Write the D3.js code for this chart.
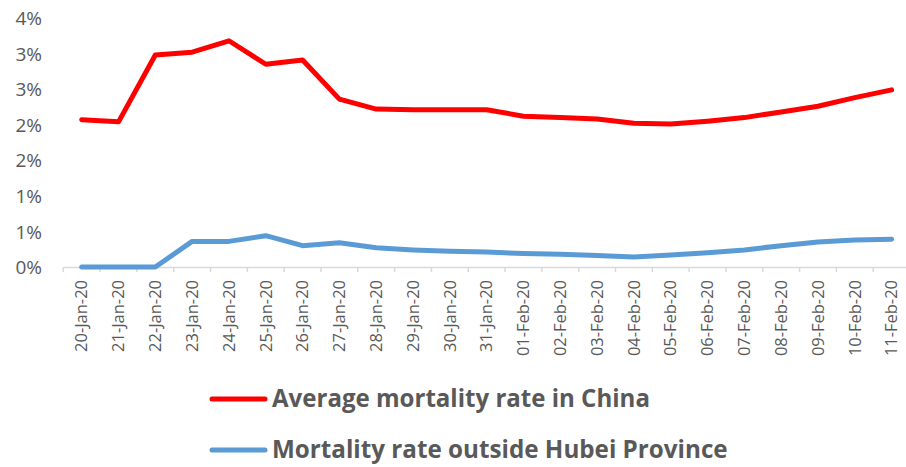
<!DOCTYPE html>
<html><head><meta charset="utf-8">
<script src="https://cdn.jsdelivr.net/npm/d3@7"></script>
<style>body{margin:0;background:#fff}svg{display:block}</style>
</head><body>
<svg id="c" width="906" height="467"></svg>
<script>
const categories = ["20-Jan-20","21-Jan-20","22-Jan-20","23-Jan-20","24-Jan-20","25-Jan-20","26-Jan-20","27-Jan-20","28-Jan-20","29-Jan-20","30-Jan-20","31-Jan-20","01-Feb-20","02-Feb-20","03-Feb-20","04-Feb-20","05-Feb-20","06-Feb-20","07-Feb-20","08-Feb-20","09-Feb-20","10-Feb-20","11-Feb-20"];
const chinaRate = [2.07,2.04,2.98,3.02,3.18,2.85,2.91,2.36,2.22,2.21,2.21,2.21,2.12,2.10,2.08,2.02,2.01,2.05,2.10,2.18,2.26,2.38,2.49];
const outsideHubeiRate = [0,0,0,0.36,0.36,0.44,0.30,0.34,0.27,0.24,0.22,0.21,0.19,0.18,0.16,0.14,0.17,0.20,0.24,0.30,0.35,0.38,0.39];
const yTicks = [0,0.5,1,1.5,2,2.5,3,3.5];
const yTickLabels = ["0%","1%","1%","2%","2%","3%","3%","4%"];
const seriesNames = ["Average mortality rate in China","Mortality rate outside Hubei Province"];
const seriesColors = ["#FF0000","#5B9BD5"];

const svg = d3.select("#c");
const font = "'Open Sans', sans-serif";
const textCol = "#595959";

const x = d3.scaleBand().domain(categories).range([63.3, 910]).paddingInner(0).paddingOuter(0);
const y = d3.scaleLinear().domain([0, 3.5]).range([267, 18]);

// x axis
const xAxis = d3.axisBottom(x).tickSize(5).tickSizeOuter(0).tickFormat(d=>d);
const gx = svg.append("g").attr("transform","translate(0,267)").call(xAxis);
gx.select(".domain").attr("stroke","#d9d9d9").attr("stroke-width",1.5);
// band-edge ticks as in Excel
gx.selectAll(".tick line").remove();
const edges = categories.map(c=>x(c)).concat([x(categories[categories.length-1])+x.bandwidth()]);
gx.selectAll("line.edge").data(edges).enter().append("line")
  .attr("x1",d=>d).attr("x2",d=>d).attr("y1",0).attr("y2",5)
  .attr("stroke","#d9d9d9").attr("stroke-width",1.5);
gx.selectAll(".tick text")
  .attr("font-family",font).attr("font-size",13.5).attr("fill",textCol)
  .attr("transform","rotate(-90)").attr("text-anchor","end")
  .attr("x",-13).attr("y",0).attr("dy","0.35em").attr("dx",null);

// fit x label size
(function(){
  const t = gx.select(".tick text").node();
  const L = t.getComputedTextLength();
  const fs = 13.5*72/L;
  gx.selectAll(".tick text").attr("font-size",fs);
})();

// y axis
const yAxis = d3.axisLeft(y).tickValues(yTicks).tickFormat((d,i)=>yTickLabels[i]).tickSize(0);
const gy = svg.append("g").attr("transform","translate(42,0)").call(yAxis);
gy.select(".domain").remove();
gy.selectAll(".tick text").attr("font-family",font).attr("font-size",19).attr("fill",textCol).attr("x",0).attr("dy","0.35em");

// lines
const line = d3.line().x((d,i)=>x(categories[i])+x.bandwidth()/2).y(d=>y(d));
[chinaRate, outsideHubeiRate].forEach((s,k)=>{
  svg.append("path").datum(s).attr("d",line).attr("fill","none")
    .attr("stroke",seriesColors[k]).attr("stroke-width",5)
    .attr("stroke-linejoin","round").attr("stroke-linecap","round");
});

// legend
const legY = [399, 450];
const legW = [378, 456];
seriesNames.forEach((n,k)=>{
  svg.append("line").attr("x1",212).attr("x2",265).attr("y1",legY[k]).attr("y2",legY[k])
    .attr("stroke",seriesColors[k]).attr("stroke-width",5).attr("stroke-linecap","round");
  const t = svg.append("text").attr("x",272).attr("y",legY[k]).attr("dy","0.35em")
    .attr("font-family",font).attr("font-weight","bold").attr("font-size",22).attr("fill",textCol).text(n);
  const L = t.node().getComputedTextLength();
  t.attr("font-size",22*legW[k]/L);
});
</script>
</body></html>
